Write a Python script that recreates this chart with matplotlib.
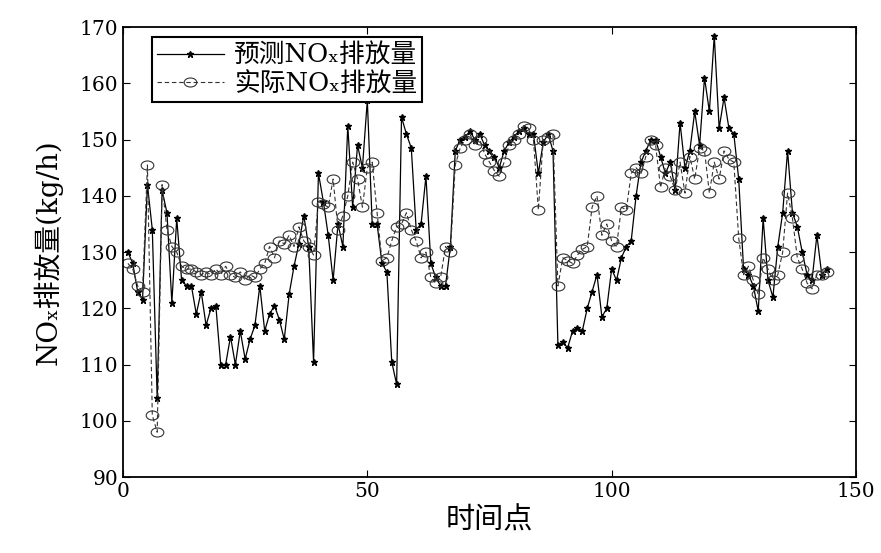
import numpy as np
import matplotlib
matplotlib.use('Agg')
import matplotlib.pyplot as plt
from matplotlib.markers import MarkerStyle
from matplotlib.transforms import Affine2D

plt.rcParams['font.family'] = ['DejaVu Serif', 'Noto Sans CJK SC']
plt.rcParams['axes.unicode_minus'] = False

# NOx emission, predicted vs measured, per time step
pred_nox = [130, 128, 123, 121.5, 142, 134, 104, 141, 137, 121,
            136, 125, 124, 124, 119, 123, 117, 120, 120.5, 110,
            110, 115, 110, 116, 111, 114.5, 117, 124, 116, 119,
            120.5, 118, 114.5, 122.5, 127.5, 131.5, 136.5, 131, 110.5, 144,
            139, 133, 125, 135, 131, 152.5, 138, 149, 145, 157,
            135, 135, 128, 126.5, 110.5, 106.5, 154, 151, 148.5, 134,
            135, 143.5, 128, 125.5, 124, 124, 131, 148, 150, 150.5,
            151.5, 150, 151, 149, 148, 147, 145, 148, 149.5, 150.5,
            151.5, 152, 151, 151, 144, 149.5, 151, 148, 113.5, 114,
            113, 116, 116.5, 116, 120, 123, 126, 118.5, 120, 127,
            125, 129, 131, 132, 140, 146, 148, 150, 150, 147,
            144, 146, 141, 153, 145, 148, 155, 149, 161, 155,
            168.5, 152, 157.5, 152, 151, 143, 127, 126, 124, 119.5,
            136, 125, 122, 131, 137, 148, 137, 134.5, 130, 126,
            125, 133, 126, 127]
real_nox = [128, 127, 124, 123, 145.5, 101, 98, 142, 134, 131,
            130, 127.5, 127, 127, 126.5, 126, 126.5, 126, 127, 126,
            127.5, 126, 125.5, 126.5, 125, 126, 125.5, 127, 128, 131,
            129, 132, 131.5, 133, 131, 134.5, 132, 131, 129.5, 139,
            138.5, 138, 143, 134, 136.5, 140, 146, 143, 138, 145,
            146, 137, 128.5, 129, 132, 134.5, 135, 137, 134, 132,
            129, 130, 125.5, 124.5, 125.5, 131, 130, 145.5, 148.5, 150,
            151, 149, 150, 147.5, 146, 144.5, 143.5, 146, 149, 150,
            151, 152.5, 152, 150, 137.5, 150, 150.5, 151, 124, 129,
            128.5, 128, 129.5, 130.5, 131, 138, 140, 133, 135, 132,
            131, 138, 137.5, 144, 145, 144, 147, 150, 149, 141.5,
            145, 143.5, 141, 146, 140.5, 147, 143, 148.5, 148, 140.5,
            146, 143, 148, 146.5, 146, 132.5, 126, 127.5, 125, 122.5,
            129, 127, 125, 126, 130, 140.5, 136, 129, 127, 124.5,
            123.5, 126, 126, 126.5]
t = np.arange(1, len(pred_nox) + 1)

fig = plt.figure(figsize=(8.81, 5.53), dpi=100)
ax = fig.add_axes([0.1396, 0.137, 0.832, 0.814])

# squashed circle marker for the measured series
ellipse = MarkerStyle('o', transform=Affine2D().scale(1.4, 1.0))

ax.plot(t, pred_nox, color='black', linewidth=0.9, marker='*',
        markersize=4.5, label='预测NOₓ排放量')
ax.plot(t, real_nox, color='#333333', linewidth=0.8, linestyle='--',
        dashes=(4, 2.5), marker=ellipse, markersize=6.5,
        markerfacecolor='none', markeredgewidth=0.8,
        label='实际NOₓ排放量')

ax.set_xlim(0, 150)
ax.set_ylim(90, 170)
ax.set_xticks([0, 50, 100, 150])
ax.set_yticks(np.arange(90, 171, 10))
ax.tick_params(direction='in', top=True, right=True, labelsize=14.5, length=5)
for s in ax.spines.values():
    s.set_linewidth(1.3)

ax.set_xlabel('时间点', fontsize=21, labelpad=4)
ax.set_ylabel('NOₓ排放量(kg/h)', fontsize=20, labelpad=12)

leg = ax.legend(loc='upper left', fontsize=18.5, fancybox=False,
                edgecolor='black', framealpha=1, handlelength=2.6,
                borderpad=0.2, labelspacing=0.15, borderaxespad=0.4,
                handletextpad=0.4, bbox_to_anchor=(0.025, 1.0))
leg.get_frame().set_linewidth(1.5)

plt.savefig('out.png', dpi=100)
plt.close()
